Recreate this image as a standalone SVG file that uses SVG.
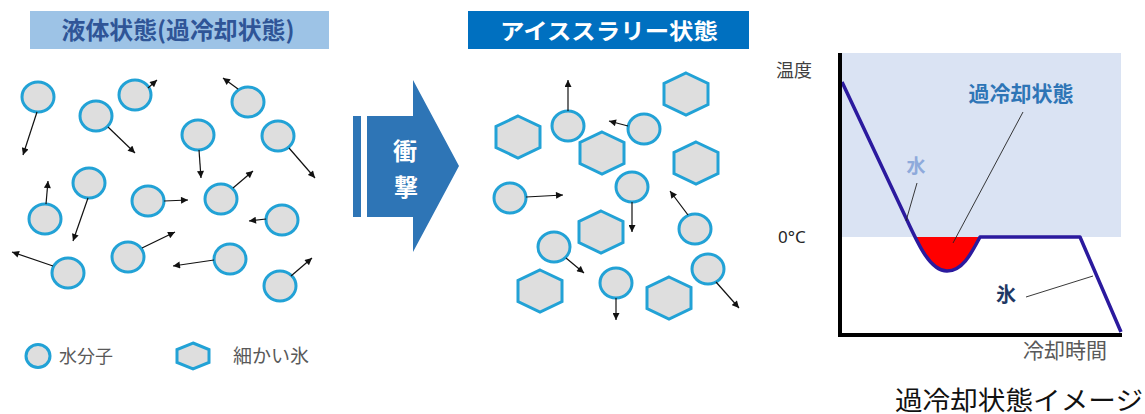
<svg xmlns="http://www.w3.org/2000/svg" xmlns:xlink="http://www.w3.org/1999/xlink" width="1145" height="414" viewBox="0 0 1145 414">
  <style>
    .jp { font-family: "Noto Sans CJK JP", "Noto Sans", sans-serif; }
    .mol { fill: #dedede; stroke: #22a2d6; stroke-width: 3; }
    .ice { fill: #dedede; stroke: #22a2d6; stroke-width: 3; stroke-linejoin: miter; }
    .mv { stroke: #111; stroke-width: 1.2; fill: none; marker-end: url(#head); }
    .lead { stroke: #222; stroke-width: 0.9; fill: none; }
    .gray { fill: #595959; }
  </style>
  <defs>
    <marker id="head" viewBox="0 0 8 8" refX="8" refY="4" markerWidth="8" markerHeight="7" markerUnits="userSpaceOnUse" orient="auto">
      <path d="M0,0 L8,4 L0,8 Z" fill="#111"/>
    </marker>
    <ellipse id="dot" cx="0" cy="0" rx="16" ry="15"/>
    <polygon id="hex" points="0,-21 22,-10.5 22,10.5 0,21 -22,10.5 -22,-10.5"/>
    <clipPath id="below0">
      <rect x="842" y="237" width="280" height="96"/>
    </clipPath>
  </defs>

  <rect width="1145" height="414" fill="#ffffff"/>

  <!-- section headings -->
  <g id="title-liquid">
    <rect x="30" y="11" width="299" height="38" fill="#9dc3e6"/>
    <text class="jp" x="178" y="39" font-size="24" font-weight="bold" fill="#2f5597" text-anchor="middle" textLength="233" lengthAdjust="spacingAndGlyphs">液体状態(過冷却状態)</text>
  </g>
  <g id="title-slurry">
    <rect x="468" y="11" width="281" height="38" fill="#0070c0"/>
    <text class="jp" x="609" y="39" font-size="22" font-weight="bold" fill="#ffffff" text-anchor="middle" textLength="218" lengthAdjust="spacingAndGlyphs">アイススラリー状態</text>
  </g>

  <!-- impact arrow -->
  <g id="impact">
    <rect x="353" y="116" width="8" height="101" fill="#2e75b6"/>
    <path d="M367,116 L413,116 L413,80 L459,166 L413,252 L413,217 L367,217 Z" fill="#2e75b6"/>
    <text class="jp" x="405" y="160" font-size="24" font-weight="bold" fill="#ffffff" text-anchor="middle">衝</text>
    <text class="jp" x="406" y="196" font-size="24" font-weight="bold" fill="#ffffff" text-anchor="middle">撃</text>
  </g>

  <!-- supercooled liquid: water molecules -->
  <g id="liquid-molecules">
    <g id="w1"><use xlink:href="#dot" class="mol" x="38" y="97"/></g>
    <g id="w2"><use xlink:href="#dot" class="mol" x="96" y="116"/></g>
    <g id="w3"><use xlink:href="#dot" class="mol" x="135" y="95"/></g>
    <g id="w4"><use xlink:href="#dot" class="mol" x="248" y="102"/></g>
    <g id="w5"><use xlink:href="#dot" class="mol" x="198" y="135"/></g>
    <g id="w6"><use xlink:href="#dot" class="mol" x="278" y="136"/></g>
    <g id="w7"><use xlink:href="#dot" class="mol" x="89" y="183"/></g>
    <g id="w8"><use xlink:href="#dot" class="mol" x="45" y="219"/></g>
    <g id="w9"><use xlink:href="#dot" class="mol" x="148" y="201"/></g>
    <g id="w10"><use xlink:href="#dot" class="mol" x="221" y="199"/></g>
    <g id="w11"><use xlink:href="#dot" class="mol" x="282" y="220"/></g>
    <g id="w12"><use xlink:href="#dot" class="mol" x="68" y="273"/></g>
    <g id="w13"><use xlink:href="#dot" class="mol" x="128" y="257"/></g>
    <g id="w14"><use xlink:href="#dot" class="mol" x="230" y="259"/></g>
    <g id="w15"><use xlink:href="#dot" class="mol" x="280" y="286"/></g>
  </g>

  <!-- ice slurry: molecules and fine ice crystals -->
  <g id="slurry-particles">
    <g id="h1"><use xlink:href="#hex" class="ice" x="518" y="137"/></g>
    <g id="h2"><use xlink:href="#hex" class="ice" x="602" y="153"/></g>
    <g id="h3"><use xlink:href="#hex" class="ice" x="686" y="94"/></g>
    <g id="h4"><use xlink:href="#hex" class="ice" x="696" y="163"/></g>
    <g id="h5"><use xlink:href="#hex" class="ice" x="601" y="232"/></g>
    <g id="h6"><use xlink:href="#hex" class="ice" x="540" y="291"/></g>
    <g id="h7"><use xlink:href="#hex" class="ice" x="669" y="298"/></g>
    <g id="s1"><use xlink:href="#dot" class="mol" x="568" y="126"/></g>
    <g id="s2"><use xlink:href="#dot" class="mol" x="644" y="129"/></g>
    <g id="s3"><use xlink:href="#dot" class="mol" x="510" y="198"/></g>
    <g id="s4"><use xlink:href="#dot" class="mol" x="632" y="187"/></g>
    <g id="s5"><use xlink:href="#dot" class="mol" x="695" y="229"/></g>
    <g id="s6"><use xlink:href="#dot" class="mol" x="554" y="247"/></g>
    <g id="s7"><use xlink:href="#dot" class="mol" x="616" y="283"/></g>
    <g id="s8"><use xlink:href="#dot" class="mol" x="708" y="269"/></g>
  </g>

  <!-- motion vectors -->
  <g id="connectors">
    <line class="mv" x1="37" y1="112" x2="23" y2="155"/>
    <line class="mv" x1="108" y1="127" x2="135" y2="153"/>
    <line class="mv" x1="148" y1="88" x2="157" y2="80"/>
    <line class="mv" x1="238" y1="89" x2="223" y2="78"/>
    <line class="mv" x1="199" y1="150" x2="201" y2="178"/>
    <line class="mv" x1="289" y1="148" x2="315" y2="178"/>
    <line class="mv" x1="88" y1="198" x2="73" y2="241"/>
    <line class="mv" x1="46" y1="204" x2="48" y2="181"/>
    <line class="mv" x1="164" y1="201" x2="188" y2="200"/>
    <line class="mv" x1="233" y1="188" x2="253" y2="171"/>
    <line class="mv" x1="266" y1="219" x2="249" y2="221"/>
    <line class="mv" x1="53" y1="266" x2="12" y2="252"/>
    <line class="mv" x1="142" y1="248" x2="175" y2="232"/>
    <line class="mv" x1="214" y1="260" x2="173" y2="266"/>
    <line class="mv" x1="291" y1="276" x2="312" y2="258"/>

    <line class="mv" x1="568" y1="111" x2="568" y2="80"/>
    <line class="mv" x1="628" y1="126" x2="609" y2="121"/>
    <line class="mv" x1="526" y1="197" x2="563" y2="195"/>
    <line class="mv" x1="632" y1="202" x2="632" y2="232"/>
    <line class="mv" x1="688" y1="215" x2="670" y2="191"/>
    <line class="mv" x1="566" y1="258" x2="584" y2="273"/>
    <line class="mv" x1="616" y1="298" x2="616" y2="320"/>
    <line class="mv" x1="716" y1="282" x2="739" y2="308"/>
  </g>

  <!-- legend -->
  <g id="legend-water">
    <ellipse cx="38" cy="356" rx="12" ry="11.5" class="mol"/>
    <text class="jp gray" x="59" y="363" font-size="18">水分子</text>
  </g>
  <g id="legend-ice">
    <polygon points="193,343 209,349.5 209,362.5 193,369 177,362.5 177,349.5" class="ice"/>
    <text class="jp gray" x="233" y="363" font-size="19">細かい氷</text>
  </g>

  <!-- cooling curve chart -->
  <g id="chart">
    <rect x="842" y="53" width="279" height="184" fill="#dae3f3"/>
    <path d="M906,218 C918,244 930,271 947,271 C963,271 972,252 980,237 Z" fill="#ff0000" clip-path="url(#below0)"/>
    <path d="M842,82 L906,218 C918,244 930,271 947,271 C963,271 972,252 980,237 L1080,237 L1121,332" fill="none" stroke="#2b1a9e" stroke-width="3.5" stroke-linejoin="round"/>
    <path d="M840,53 L840,335 L1122,335" fill="none" stroke="#000000" stroke-width="4"/>
    <text class="jp" x="776" y="77" font-size="18" fill="#404040">温度</text>
    <text x="778" y="243" font-size="17" fill="#262626" font-family="Noto Sans, sans-serif">0°C</text>
    <text class="jp" x="1023" y="358" font-size="21" fill="#595959">冷却時間</text>
  </g>
  <g id="label-supercooled">
    <text class="jp" x="1021" y="101" font-size="21" font-weight="bold" fill="#2e75b6" text-anchor="middle">過冷却状態</text>
    <line class="lead" x1="1023" y1="112" x2="953" y2="243"/>
  </g>
  <g id="label-water">
    <text class="jp" x="916" y="173" font-size="19" font-weight="bold" fill="#8eaadb" text-anchor="middle">水</text>
    <line class="lead" x1="917" y1="183" x2="906" y2="221"/>
  </g>
  <g id="label-ice">
    <text class="jp" x="1006" y="302" font-size="20" font-weight="bold" fill="#1f3864" text-anchor="middle">氷</text>
    <line class="lead" x1="1026" y1="297" x2="1093" y2="276"/>
  </g>

  <text id="caption" x="895" y="410" font-size="26" fill="#111111" font-family="Liberation Serif, Noto Sans CJK JP, serif" textLength="248" lengthAdjust="spacingAndGlyphs">過冷却状態イメージ</text>
</svg>
